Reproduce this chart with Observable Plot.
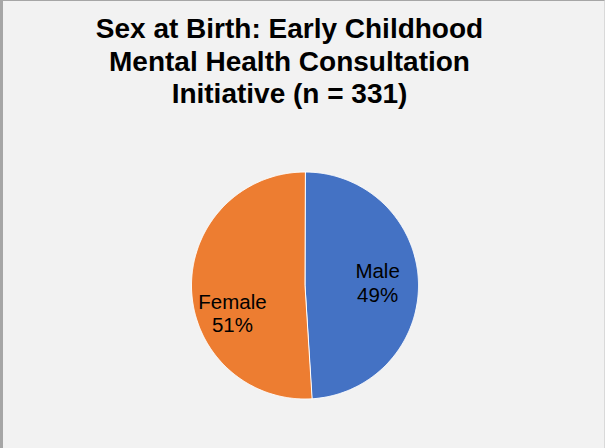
<!DOCTYPE html>
<html>
<head>
<meta charset="utf-8">
<script src="https://cdn.jsdelivr.net/npm/d3@7"></script>
<script src="https://cdn.jsdelivr.net/npm/@observablehq/plot@0.6"></script>
<style>
  html, body { margin: 0; padding: 0; }
  body { width: 605px; height: 448px; background: #f2f2f2; position: relative; overflow: hidden; font-family: "Liberation Sans", Arial, sans-serif; }
  #title { position: absolute; top: 13px; left: 0; width: 579px; text-align: center; font-weight: bold; font-size: 28px; line-height: 32.5px; color: #000; }
  #chart { position: absolute; top: 140px; left: 0; }
  #frame { position: absolute; left: 0; top: 0; width: 605px; height: 448px; box-sizing: border-box; border-top: 1px solid #a6a6a6; border-left: 3px solid #a6a6a6; border-right: 1px solid #d9d9d9; pointer-events: none; }
</style>
</head>
<body>
<div id="title">Sex at Birth: Early Childhood<br>Mental Health Consultation<br>Initiative (n = 331)</div>
<div id="chart"></div>
<div id="frame"></div>
<script>
const categories = ["Male", "Female"];
const percents = [49, 51];
const colors = ["#4472c4", "#ed7d31"];

const rows = categories.map((c, i) => ({category: c, value: percents[i]}));
const arcs = d3.pie().sort(null).value(d => d.value)(rows);
const slices = arcs.map(p => {
  const pts = [[0, 0]];
  const n = Math.max(2, Math.ceil((p.endAngle - p.startAngle) / (Math.PI / 360)));
  for (let k = 0; k <= n; k++) {
    const a = p.startAngle + (p.endAngle - p.startAngle) * k / n;
    pts.push([Math.sin(a), -Math.cos(a)]);
  }
  pts.push([0, 0]);
  return {
    type: "Feature",
    properties: {category: p.data.category, value: p.data.value, mid: (p.startAngle + p.endAngle) / 2},
    geometry: {type: "Polygon", coordinates: [pts]}
  };
});

const labelR = 0.64;
const lx = d => labelR * Math.sin(d.properties.mid);
const ly = d => -labelR * Math.cos(d.properties.mid);
const labelText = d => `${d.properties.category}\n${d.properties.value}%`;

const plot = Plot.plot({
  width: 605,
  height: 308,
  marginLeft: 191,
  marginRight: 187,
  marginTop: 31.5,
  marginBottom: 49.5,
  style: {background: "transparent", fontFamily: "Liberation Sans, Arial, sans-serif"},
  projection: {
    type: "identity",
    domain: {type: "Polygon", coordinates: [[[-1, -1], [1, -1], [1, 1], [-1, 1], [-1, -1]]]}
  },
  color: {domain: categories, range: colors},
  marks: [
    Plot.geo(slices, {fill: d => d.properties.category, stroke: "white", strokeWidth: 1}),
    Plot.text(slices.filter(d => d.properties.category === "Male"), {x: lx, y: ly, text: labelText, fontSize: 20.5, lineHeight: 1.15, fill: "black", dy: -1}),
    Plot.text(slices.filter(d => d.properties.category === "Female"), {x: lx, y: ly, text: labelText, fontSize: 20.5, lineHeight: 1.15, fill: "black", dy: 25})
  ]
});
document.getElementById("chart").appendChild(plot);
</script>
</body>
</html>
